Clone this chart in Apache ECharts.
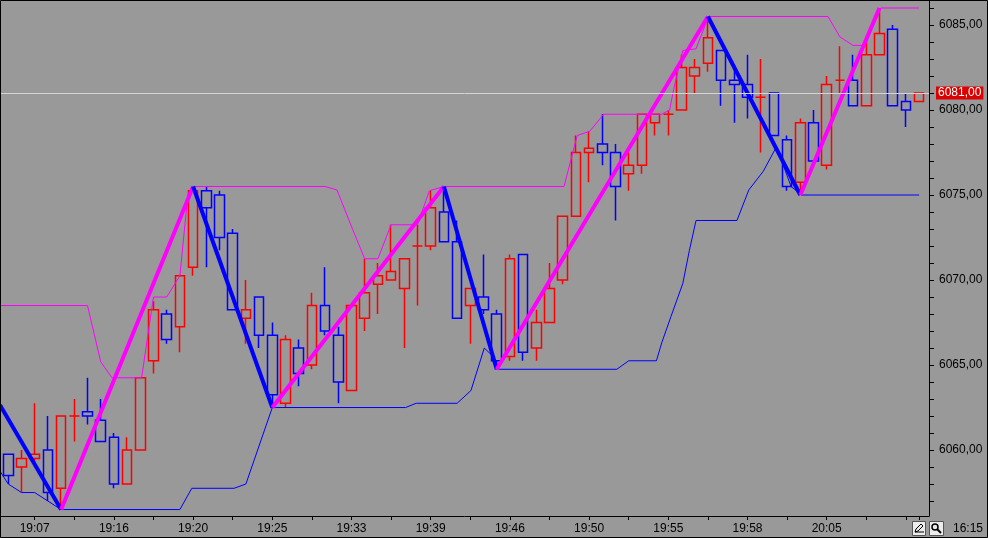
<!DOCTYPE html>
<html>
<head>
<meta charset="utf-8">
<title>Chart - zigzag</title>
<script src="https://cdn.jsdelivr.net/npm/echarts@6/dist/echarts.min.js"></script>
<style>
  html, body { margin: 0; padding: 0; background: #999; }
  #chart { width: 988px; height: 538px; }
</style>
</head>
<body>
<div id="chart"></div>
<script type="text/javascript">
// candles, one per bar (bar index = array position)
var opens  = [6059.75,6059.0,6059.5,6060.0,6057.75,6062.0,6062.25,6061.75,6060.75,6058.0,
              6060.0,6065.25,6068.0,6067.25,6070.75,6075.25,6075.0,6072.75,6067.75,6069.0,
              6066.75,6062.75,6066.0,6065.0,6068.5,6066.75,6063.5,6067.75,6069.75,6070.0,
              6069.5,6072.0,6072.0,6074.0,6072.25,6068.5,6069.0,6068.0,6065.5,6071.5,
              6066.0,6067.5,6070.0,6073.75,6077.5,6078.0,6077.5,6076.25,6076.75,6079.25,
              6079.75,6080.0,6082.0,6082.75,6083.5,6081.75,6081.5,6080.75,6081.0,6078.25,
              6075.75,6079.25,6076.75,6081.75,6081.75,6080.25,6083.25,6084.75,6080.5,6080.5];
var closes = [6058.5,6059.5,6059.75,6057.5,6062.0,6062.0,6062.0,6060.5,6058.0,6060.0,
              6064.25,6068.25,6066.5,6070.25,6075.25,6074.25,6072.5,6068.25,6068.25,6066.75,
              6063.25,6066.5,6064.5,6068.5,6067.0,6064.0,6068.5,6069.25,6070.25,6070.5,
              6071.25,6072.0,6074.25,6072.25,6067.75,6069.5,6068.25,6065.25,6071.25,6065.75,
              6067.5,6069.5,6073.75,6077.5,6077.75,6077.5,6075.5,6076.75,6079.75,6079.75,
              6079.75,6082.5,6082.5,6084.25,6081.75,6081.5,6080.75,6080.75,6078.5,6075.5,
              6079.25,6077.0,6081.5,6081.75,6080.25,6083.25,6084.5,6080.25,6080.0,6081.0];
var lows   = [6058.0,6057.5,6059.25,6057.0,6056.5,6060.5,6061.5,6060.5,6057.75,6058.0,
              6060.0,6064.5,6066.25,6065.75,6070.25,6070.75,6071.75,6068.25,6066.25,6066.0,
              6062.5,6062.5,6063.75,6064.75,6066.75,6062.75,6063.5,6067.0,6068.0,6070.0,
              6066.0,6068.5,6071.75,6072.25,6067.75,6066.25,6068.0,6064.75,6065.25,6065.25,
              6065.25,6067.5,6069.75,6073.75,6075.75,6076.75,6073.5,6075.25,6076.25,6078.5,
              6078.5,6080.0,6081.0,6082.25,6080.25,6079.25,6079.5,6077.5,6078.5,6075.25,
              6075.0,6077.0,6076.5,6081.0,6080.25,6080.25,6083.25,6080.25,6079.0,6080.5];
var highs  = [6059.75,6060.0,6062.75,6062.0,6062.0,6063.0,6064.25,6063.0,6061.0,6060.75,
              6064.25,6068.75,6068.25,6070.25,6075.5,6075.5,6075.25,6073.0,6070.0,6069.0,
              6067.5,6066.75,6066.5,6069.25,6070.75,6067.25,6068.5,6071.25,6071.0,6073.25,
              6071.25,6073.25,6075.25,6075.5,6073.5,6069.5,6071.5,6068.25,6071.5,6071.5,
              6068.25,6071.0,6073.75,6078.5,6078.75,6079.75,6078.0,6077.5,6079.75,6079.75,
              6080.0,6083.25,6083.0,6085.5,6083.5,6082.5,6083.25,6083.0,6081.0,6078.5,
              6079.5,6080.0,6082.0,6083.75,6083.25,6084.0,6086.0,6085.0,6081.0,6081.0];

// time labels on the bottom axis and the bars they sit under
var timeLabels = ['19:07','19:16','19:20','19:25','19:33','19:39','19:46','19:50','19:55','19:58','20:05'];
var labelBars  = [2, 8, 14, 20, 26, 32, 38, 44, 50, 56, 62];
var clockText  = '16:15';

// zigzag turning points (bar, price); first one is where it enters the chart
var zzBars = [-0.63, 4, 14, 20, 33, 37, 53, 60, 66];
var zzVals = [6062.65, 6056.5, 6075.5, 6062.5, 6075.5, 6064.75, 6085.5, 6075.0, 6086.0];

// upper channel (thin magenta)
var upBars = [-0.63, 6.0, 7.0, 7.85, 10.1, 11.0, 12.0, 13.0, 13.6, 14.0, 24.0, 24.9, 26.1, 27.0, 28.0,
              29.0, 31.0, 31.9, 33.0, 42.1, 43.1, 44.05, 45.1, 49.5, 50.1, 50.4, 51.1, 52.1, 53.05,
              62.1, 63.0, 64.0, 64.7, 65.0, 66.1, 69.0];
var upVals = [6068.5, 6068.5, 6065.2, 6064.25, 6064.25, 6069.0, 6069.0, 6070.25, 6075.0, 6075.5, 6075.5, 6075.3, 6072.95, 6071.25, 6071.25,
              6073.25, 6073.25, 6075.25, 6075.5, 6075.5, 6078.5, 6078.75, 6079.75, 6079.75, 6080.0, 6081.2, 6083.5, 6083.6, 6085.5,
              6085.5, 6084.3, 6083.8, 6083.8, 6084.0, 6086.0, 6086.0];

// lower channel (thin blue)
var loBars = [-0.63, 0, 1, 2, 3, 4, 13.0, 13.9, 17.1, 18.0, 20.0, 30.1, 30.9, 34.0, 35.05, 36.06, 36.6, 37.1,
              46.1, 47.0, 49.1, 49.5, 50.2, 51.1, 51.6, 52.1, 55.2, 56.1, 57.2, 58.2, 59.3, 60.1, 69.0];
var loVals = [6058.75, 6058.0, 6057.5, 6057.5, 6057.0, 6056.5, 6056.5, 6057.75, 6057.75, 6058.0, 6062.5, 6062.5, 6062.75, 6062.75, 6063.5, 6066.0, 6065.6, 6064.75,
              6064.75, 6065.25, 6065.25, 6066.3, 6067.85, 6069.8, 6071.75, 6073.5, 6073.5, 6075.3, 6076.4, 6077.85, 6075.5, 6075.0, 6075.0];

var lastPrice = 6081.0;

var BG = '#999999';
var FONT = 'Liberation Sans';

function fmtPrice(v) { return v.toFixed(2).replace('.', ','); }

var candleData = [];
for (var i = 0; i < opens.length; i++) {
  candleData.push([i, opens[i], closes[i], lows[i], highs[i]]);
}
function pairs(xs, ys) {
  var out = [];
  for (var k = 0; k < xs.length; k++) out.push([xs[k], ys[k]]);
  return out;
}

var priceTicks = [], priceLabels = [];
for (var p = 6057; p <= 6086; p++) { priceTicks.push(p); if (p % 5 === 0) priceLabels.push(p); }
var barTicks = [];
for (var b = 2; b < opens.length; b += 3) barTicks.push(b);
barTicks.push(opens.length - 1);

var series = [{
  type: 'candlestick',
  data: candleData,
  barWidth: 10,
  z: 2,
  itemStyle: {
    color: BG, color0: BG,
    borderColor: '#ff0000', borderColor0: '#0000ff', borderColorDoji: '#ff0000',
    borderWidth: 1.5
  },
  markLine: {
    silent: true, symbol: 'none', animation: false,
    lineStyle: { color: '#d4d4d4', width: 1, type: 'solid' },
    label: {
      position: 'end', distance: 7, formatter: fmtPrice(lastPrice),
      color: '#fff', backgroundColor: '#dd0000', padding: [1, 2, 0, 2],
      fontFamily: FONT, fontSize: 12
    },
    data: [{ yAxis: lastPrice }]
  }
}, {
  type: 'line', data: pairs(upBars, upVals), symbol: 'none', z: 3,
  lineStyle: { color: '#ff00ff', width: 1 }
}, {
  type: 'line', data: pairs(loBars, loVals), symbol: 'none', z: 3,
  lineStyle: { color: '#0000ff', width: 1 }
}];

// zigzag: down legs blue, up legs magenta
for (var s = 0; s < zzBars.length - 1; s++) {
  var down = zzVals[s + 1] < zzVals[s];
  series.push({
    type: 'line', symbol: 'none', z: 4,
    data: [[zzBars[s], zzVals[s]], [zzBars[s + 1], zzVals[s + 1]]],
    lineStyle: { color: down ? '#0000ff' : '#ff00ff', width: 4 }
  });
}

var myChart = echarts.init(document.getElementById('chart'));
var option = {
  backgroundColor: BG,
  animation: false,
  textStyle: { fontFamily: FONT },
  grid: { left: 0, right: 59, top: 0, bottom: 22 },
  xAxis: {
    type: 'value', min: -0.629, max: 69.75,
    splitLine: { show: false },
    axisLine: { show: true, onZero: false, lineStyle: { color: '#000', width: 1 } },
    axisTick: { show: true, length: 4, customValues: barTicks, lineStyle: { color: '#000' } },
    axisLabel: {
      customValues: labelBars, margin: 7, color: '#000', fontSize: 12, fontFamily: FONT,
      formatter: function (v) {
        var k = labelBars.indexOf(Math.round(v));
        return k >= 0 ? timeLabels[k] : '';
      }
    }
  },
  yAxis: {
    type: 'value', position: 'right', min: 6056.12, max: 6086.47,
    splitLine: { show: false },
    axisLine: { show: true, onZero: false, lineStyle: { color: '#000', width: 1 } },
    axisTick: { show: true, length: 5, customValues: priceTicks, lineStyle: { color: '#000' } },
    axisLabel: {
      customValues: priceLabels, margin: 10, color: '#000', fontSize: 12, fontFamily: FONT,
      formatter: fmtPrice
    }
  },
  series: series,
  graphic: [
    { type: 'rect', z: 100, silent: true, shape: { x: 0.5, y: 0.5, width: 987, height: 537 },
      style: { fill: 'none', stroke: '#000', lineWidth: 1 } },
    // pencil button
    { type: 'rect', z: 100, shape: { x: 912.5, y: 521.5, width: 13, height: 14 },
      style: { fill: '#ececec', stroke: '#555', lineWidth: 1 } },
    { type: 'polyline', z: 101, shape: { points: [[915, 532], [916, 529], [921, 524], [923, 526], [918, 531], [915, 532], [924, 532]] },
      style: { fill: 'none', stroke: '#000', lineWidth: 1 } },
    // magnifier button
    { type: 'rect', z: 100, shape: { x: 929.5, y: 521.5, width: 14, height: 14 },
      style: { fill: '#ececec', stroke: '#555', lineWidth: 1 } },
    { type: 'circle', z: 101, shape: { cx: 935, cy: 527, r: 3 },
      style: { fill: 'none', stroke: '#000', lineWidth: 1.5 } },
    { type: 'line', z: 101, shape: { x1: 937, y1: 529, x2: 941, y2: 533 },
      style: { stroke: '#000', lineWidth: 2 } },
    { type: 'text', z: 101, x: 953, y: 529,
      style: { text: clockText, fill: '#000', font: '12px ' + FONT, textVerticalAlign: 'middle' } }
  ]
};
myChart.setOption(option);
</script>
</body>
</html>
